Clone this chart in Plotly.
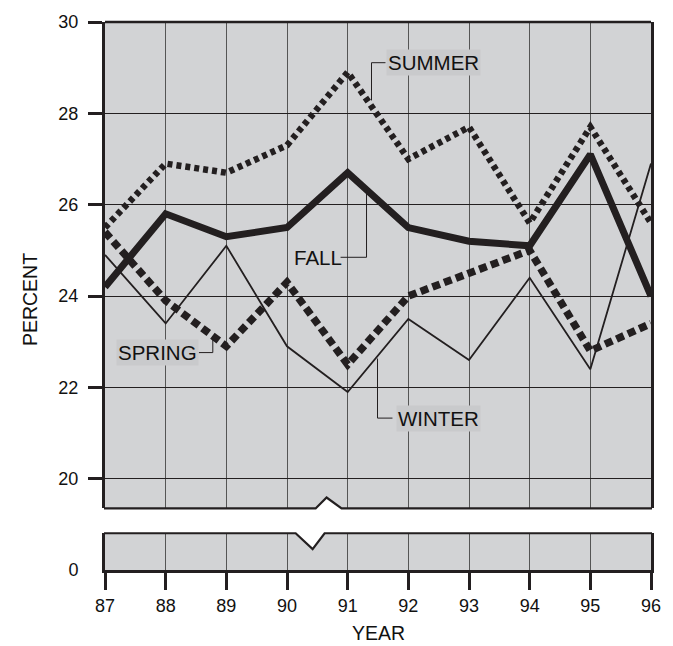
import plotly.graph_objects as go

# ---- data ----
years = [87, 88, 89, 90, 91, 92, 93, 94, 95, 96]
fall = [24.2, 25.8, 25.3, 25.5, 26.7, 25.5, 25.2, 25.1, 27.1, 24.0]
summer = [25.5, 26.9, 26.7, 27.3, 28.9, 27.0, 27.7, 25.6, 27.7, 25.6]
spring = [25.4, 23.9, 22.9, 24.3, 22.5, 24.0, 24.5, 25.0, 22.8, 23.4]
winter = [24.9, 23.4, 25.1, 22.9, 21.9, 23.5, 22.6, 24.4, 22.4, 26.9]
y_ticks = [20, 22, 24, 26, 28, 30]
y_low_ticks = [0]

# ---- geometry helpers (decoration placement) ----
W, H = 673, 646
ML, MR, MT, MB = 105, 21, 18, 76
PW, PH = W - ML - MR, H - MT - MB


def px(xp):
    return (xp - ML) / PW


def py(yp):
    return (H - MB - yp) / PH


INK = "#231f20"
BG = "#d2d3d5"
FONT = "Liberation Sans, Arial, sans-serif"

upper_dom = [py(508), 1.0]
lower_dom = [0.0, py(533)]

fig = go.Figure()
fig.add_trace(go.Scatter(x=years, y=winter, mode="lines", name="WINTER",
                         line=dict(color=INK, width=1.8)))
fig.add_trace(go.Scatter(x=years, y=spring, mode="lines", name="SPRING",
                         line=dict(color=INK, width=7.5, dash="8px,4.5px")))
fig.add_trace(go.Scatter(x=years, y=summer, mode="lines", name="SUMMER",
                         line=dict(color=INK, width=6.5, dash="5px,4px")))
fig.add_trace(go.Scatter(x=years, y=fall, mode="lines", name="FALL",
                         line=dict(color=INK, width=7)))
# lower panel placeholder (empty) so the subplot is drawn
fig.add_trace(go.Scatter(x=[years[0]], y=[None], xaxis="x", yaxis="y2",
                         mode="lines", showlegend=False, hoverinfo="skip"))

shapes = []
# top border of the upper panel
shapes.append(dict(type="line", xref="paper", yref="paper", x0=0, x1=1, y0=1, y1=1,
                   line=dict(color=INK, width=2.5)))
# upper panel break notch (white cut-out)
shapes.append(dict(type="path", xref="paper", yref="paper",
                   path=f"M{px(316)},{py(508.5)} L{px(327)},{py(497)} L{px(342)},{py(508.5)} Z",
                   fillcolor="white", line=dict(width=0), layer="above"))
shapes.append(dict(type="path", xref="paper", yref="paper",
                   path=(f"M{px(104)},{py(508)} L{px(316)},{py(508)} L{px(327)},{py(497)} "
                         f"L{px(342)},{py(508)} L{px(653)},{py(508)}"),
                   line=dict(color=INK, width=2.2), layer="above"))
# lower panel break notch
shapes.append(dict(type="path", xref="paper", yref="paper",
                   path=f"M{px(296)},{py(532.5)} L{px(313)},{py(549)} L{px(325)},{py(532.5)} Z",
                   fillcolor="white", line=dict(width=0), layer="above"))
shapes.append(dict(type="path", xref="paper", yref="paper",
                   path=(f"M{px(104)},{py(533)} L{px(296)},{py(533)} L{px(313)},{py(549)} "
                         f"L{px(325)},{py(533)} L{px(653)},{py(533)}"),
                   line=dict(color=INK, width=2.2), layer="above"))

# leader lines for labels
leaders = [
    [(372, 97), (372, 59), (386, 59)],     # SUMMER
    [(341, 255), (367, 255), (367, 188)],  # FALL
    [(199, 351), (213, 351), (213, 335)],  # SPRING
    [(378, 357), (378, 417), (393, 417)],  # WINTER
]
for pts in leaders:
    path = "M" + " L".join(f"{px(a)},{py(b)}" for a, b in pts)
    shapes.append(dict(type="path", xref="paper", yref="paper", path=path,
                       line=dict(color=INK, width=1), layer="above"))

annotations = []
labels = [("SUMMER", 387, 59, "#c9cacc"), ("FALL", 292, 255, "rgba(0,0,0,0)"),
          ("SPRING", 116, 351, "#c9cacc"), ("WINTER", 397, 417, "#c9cacc")]
for txt, xl, yc, bg in labels:
    annotations.append(dict(text=txt, xref="paper", yref="paper", x=px(xl), y=py(yc),
                            xanchor="left", yanchor="middle", showarrow=False,
                            bgcolor=bg, borderpad=1,
                            font=dict(family=FONT, size=20.5, color="#111")))
annotations.append(dict(text="PERCENT", xref="paper", yref="paper", x=px(30), y=py(298),
                        textangle=-90, showarrow=False, xanchor="center", yanchor="middle",
                        font=dict(family=FONT, size=19.5, color="#111")))
annotations.append(dict(text="YEAR", xref="paper", yref="paper", x=0.5, y=py(633),
                        showarrow=False, xanchor="center", yanchor="middle",
                        font=dict(family=FONT, size=19.5, color="#111")))

fig.update_layout(
    width=W, height=H,
    margin=dict(l=ML, r=MR, t=MT, b=MB),
    paper_bgcolor="white", plot_bgcolor=BG,
    showlegend=False,
    hovermode=False,
    font=dict(family=FONT, size=18, color="#111"),
    xaxis=dict(anchor="y2", range=[87, 96], tickmode="array", tickvals=years,
               ticktext=[str(v) for v in years],
               showgrid=True, gridcolor="#555555", gridwidth=1, zeroline=False,
               showline=True, linecolor=INK, linewidth=3,
               ticks="outside", ticklen=17, tickwidth=3, tickcolor=INK,
               tickfont=dict(size=18)),
    yaxis=dict(domain=upper_dom, anchor="x", range=[19.35, 30], tickmode="array",
               tickvals=y_ticks, showgrid=True, gridcolor=INK, gridwidth=1,
               zeroline=False, showline=True, mirror=True, linecolor=INK, linewidth=3,
               ticks="outside", ticklen=14, tickwidth=3, tickcolor=INK,
               tickfont=dict(size=18), ticklabelstandoff=6),
    yaxis2=dict(domain=lower_dom, anchor="x", range=[0, 1], tickmode="array",
                tickvals=y_low_ticks, showgrid=False, zeroline=False,
                showline=True, mirror=True, linecolor=INK, linewidth=3,
                ticks="", tickfont=dict(size=18), ticklabelstandoff=20),
    shapes=shapes,
    annotations=annotations,
)

fig.write_html("out.html",
               config={"displayModeBar": False, "staticPlot": True},
               post_script="document.body.style.margin='0';document.body.style.overflow='hidden';")
